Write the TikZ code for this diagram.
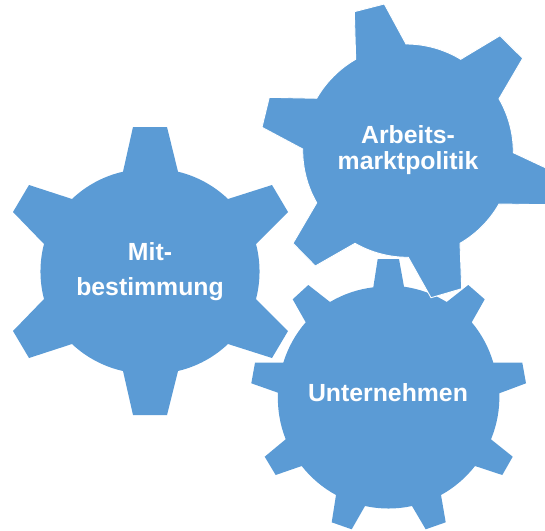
\documentclass[tikz,border=0pt]{standalone}
\usepackage{fontspec}
\setmainfont{Liberation Sans}
\usetikzlibrary{svg.path}
\definecolor{gearblue}{HTML}{5B9BD5}
\tikzset{
  gear/.style={fill=gearblue,draw=none},
  gearedge/.style={fill=gearblue,draw=white,line width=0.9pt,line join=miter},
  geartext/.style={text=white,align=center,font=\bfseries\fontsize{24.8}{26}\selectfont,inner sep=0pt},
  widetext/.style={geartext,font=\bfseries\fontsize{24.8}{35.7}\selectfont}
}
\begin{document}
\begin{tikzpicture}[x=1pt,y=1pt]
\useasboundingbox (0,0) rectangle (545,-530);
\begin{scope}[yscale=-1]
% Mitbestimmung
\path[gear] svg {M 123 171.7 L 133 127 L 167 127 L 178 171.7
 A 109 109 0 0 1 228 199 L 272 185 L 288 212 L 256 244
 A 109 109 0 0 1 256 299 L 288 331 L 272 358 L 228 344
 A 109 109 0 0 1 178 371 L 167 415 L 133 415 L 123 371
 A 109 109 0 0 1 72 344 L 29 358 L 13 331 L 44 299
 A 109 109 0 0 1 44 244 L 13 212 L 29 185 L 72 199
 A 109 109 0 0 1 123 171.7 Z};
% Unternehmen
\path[gear] svg {M 404 286.7 L 399 259 L 377.7 259 L 373.3 287.3
 A 111 111 0 0 0 330 302 L 308.3 285 L 292.7 299.3 L 305.7 322.3
 A 111 111 0 0 0 283.3 362.7 L 255 362.7 L 251.3 383.3 L 278 392.7
 A 111 111 0 0 0 285.7 439.3 L 264.7 456.7 L 275.7 475 L 301.7 466
 A 111 111 0 0 0 336 495 L 331.7 522.3 L 351.7 529.3 L 365 506
 A 111 111 0 0 0 412 506 L 425.7 529.3 L 445.7 522.3 L 441 495
 A 111 111 0 0 0 475 466 L 502.3 475 L 512.7 456.7 L 491 439.3
 A 111 111 0 0 0 499.3 392.7 L 526 383.3 L 522.3 362.7 L 493.3 362.7
 A 111 111 0 0 0 471.7 322.3 L 484.7 299.3 L 468.3 285 L 446.7 302
 A 111 111 0 0 0 404 286.7 Z};
% Arbeitsmarktpolitik
\path[gearedge] svg {M 406 44 L 384.3 4 L 354.3 11.7 L 355.7 59.3
 A 106 106 0 0 0 316.7 98.3 L 269.3 97.3 L 262 127.3 L 302.7 149
 A 106 106 0 0 0 316.7 204 L 293 243.3 L 315.3 266 L 355 243.3
 A 106 106 0 0 0 408.3 257.3 L 431 297.7 L 461.7 288.7 L 460 243.3
 A 106 106 0 0 0 499 204 L 546 204.7 L 546 168 L 513.3 152.7
 A 106 106 0 0 0 499 97.7 L 522.7 58.3 L 500 35.7 L 460.7 59.3
 A 106 106 0 0 0 406 44 Z};
\end{scope}
\node[widetext] (mit) at (150,-271.5) {Mit-\\bestimmung};
\node[geartext] (arb) at (408,-150) {Arbeits-\\marktpolitik};
\node[geartext] (unt) at (388,-393) {Unternehmen};
\end{tikzpicture}
\end{document}
